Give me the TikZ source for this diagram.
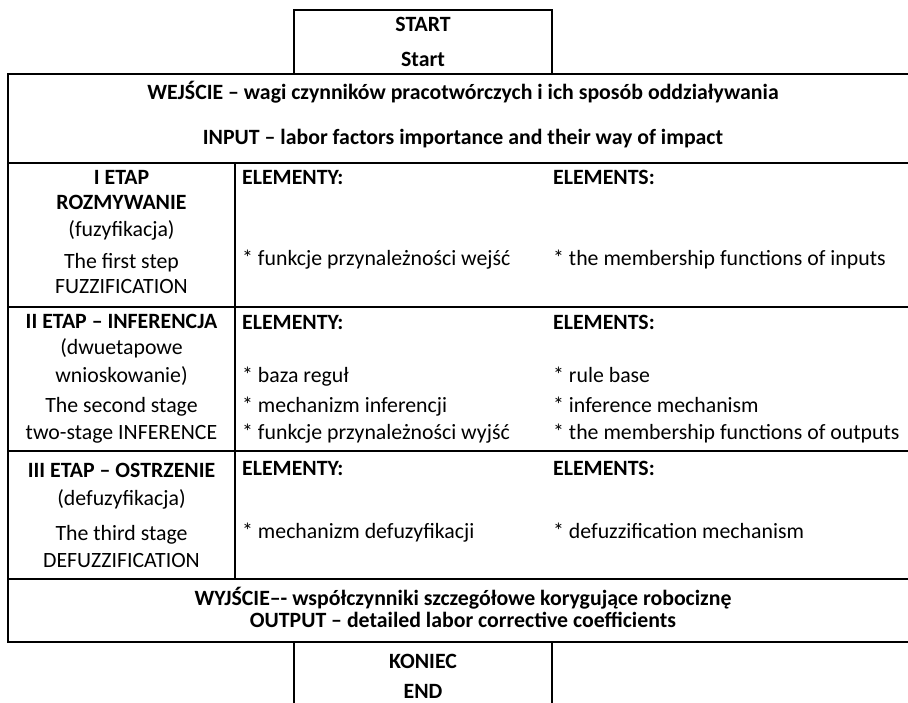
\documentclass[tikz,border=0pt]{standalone}
\usepackage{fontspec}
\setmainfont{Carlito}
\begin{document}
\begin{tikzpicture}[x=1pt,y=-1pt,
  rule/.style={line width=1.3pt,line cap=rect},
  txt/.style={font=\fontsize{21.8}{25}\selectfont,inner sep=0pt,anchor=base},
  btxt/.style={txt,font=\fontsize{21.8}{25}\selectfont\bfseries},
  ltxt/.style={txt,anchor=base west},
  lbtxt/.style={btxt,anchor=base west}]
\useasboundingbox (0,0) rectangle (908,703);
% frames
\draw[rule] (294,74) -- (294,10) -- (552,10) -- (552,74);
\draw[rule] (920,74) -- (8,74) -- (8,642) -- (920,642);
\draw[rule] (8,163) -- (920,163);
\draw[rule] (8,307) -- (920,307);
\draw[rule] (8,451) -- (920,451);
\draw[rule] (8,579) -- (920,579);
\draw[rule] (235,163) -- (235,579);
\draw[rule] (294,710) -- (294,642);
\draw[rule] (552,710) -- (552,642);
% start
\node[btxt] (start1) at (423,32) {START};
\node[btxt] (start2) at (423,67) {Start};
% input
\node[btxt] (in1) at (463,100) {WEJŚCIE – wagi czynników pracotwórczych i ich sposób oddziaływania};
\node[btxt] (in2) at (463,145) {INPUT – labor factors importance and their way of impact};
% row I
\node[btxt] (s1a) at (121.5,185) {I ETAP};
\node[btxt] (s1b) at (121.5,210) {ROZMYWANIE};
\node[txt] (s1c) at (121.5,237) {(fuzyfikacja)};
\node[txt] (s1d) at (121.5,269) {The first step};
\node[txt] (s1e) at (121.5,294) {FUZZIFICATION};
\node[lbtxt] (e1a) at (242,185) {ELEMENTY:};
\node[lbtxt] (f1a) at (553,185) {ELEMENTS:};
\node[ltxt] (e1b) at (242,266) {* funkcje przynależności wejść};
\node[ltxt] (f1b) at (553,266) {* the membership functions of inputs};
% row II
\node[btxt] (s2a) at (121.5,329) {II ETAP – INFERENCJA};
\node[txt] (s2b) at (121.5,355) {(dwuetapowe};
\node[txt] (s2c) at (121.5,382) {wnioskowanie)};
\node[txt] (s2d) at (121.5,412) {The second stage};
\node[txt] (s2e) at (121.5,439) {two-stage INFERENCE};
\node[lbtxt] (e2a) at (242,330) {ELEMENTY:};
\node[lbtxt] (f2a) at (553,330) {ELEMENTS:};
\node[ltxt] (e2b) at (242,382) {* baza reguł};
\node[ltxt] (f2b) at (553,382) {* rule base};
\node[ltxt] (e2c) at (242,412) {* mechanizm inferencji};
\node[ltxt] (f2c) at (553,412) {* inference mechanism};
\node[ltxt] (e2d) at (242,439) {* funkcje przynależności wyjść};
\node[ltxt] (f2d) at (553,439) {* the membership functions of outputs};
% row III
\node[btxt] (s3a) at (121.5,477) {III ETAP – OSTRZENIE};
\node[txt] (s3b) at (121.5,505) {(defuzyfikacja)};
\node[txt] (s3c) at (121.5,540) {The third stage};
\node[txt] (s3d) at (121.5,567) {DEFUZZIFICATION};
\node[lbtxt] (e3a) at (242,475) {ELEMENTY:};
\node[lbtxt] (f3a) at (553,475) {ELEMENTS:};
\node[ltxt] (e3b) at (242,538) {* mechanizm defuzyfikacji};
\node[ltxt] (f3b) at (553,538) {* defuzzification mechanism};
% output
\node[btxt] (out1) at (463,605) {WYJŚCIE–- współczynniki szczegółowe korygujące robociznę};
\node[btxt] (out2) at (463,627) {OUTPUT – detailed labor corrective coefficients};
% end
\node[btxt] (end1) at (423,668) {KONIEC};
\node[btxt,text depth=0pt] (end2) at (423,698) {END};
\end{tikzpicture}
\end{document}
